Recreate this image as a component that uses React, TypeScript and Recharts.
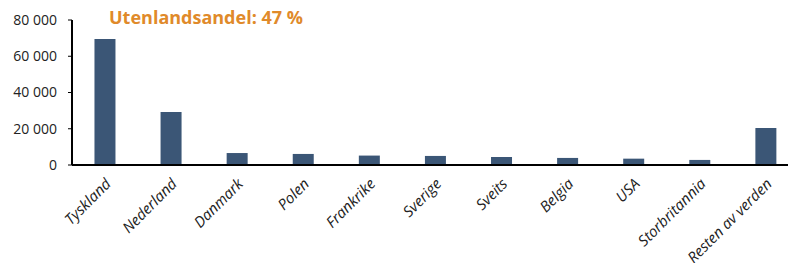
import React from 'react';
import { BarChart, Bar, XAxis, YAxis } from 'recharts';

const countries = [
  'Tyskland',
  'Nederland',
  'Danmark',
  'Polen',
  'Frankrike',
  'Sverige',
  'Sveits',
  'Belgia',
  'USA',
  'Storbritannia',
  'Resten av verden',
];

const visitors = [69500, 29200, 6600, 6100, 5200, 5000, 4400, 3900, 3500, 2800, 20400];

const yTicks = [0, 20000, 40000, 60000, 80000];

const title = 'Utenlandsandel: 47 %';

const data = countries.map((name, i) => ({ name, value: visitors[i] }));

// 20000 -> "20 000"
const formatThousands = (v: number) => (v === 0 ? '0' : `${v / 1000} 000`);

const AngledTick = ({ x, y, payload }: any) => (
  <g transform={`translate(${x + 4},${y + 9})`}>
    <text
      x={0}
      y={0}
      dy={4}
      textAnchor="end"
      transform="rotate(-45)"
      fontSize={15}
      fontStyle="italic"
      fill="#222"
    >
      {payload.value}
    </text>
  </g>
);

const App: React.FC = () => {
  return (
    <div
      style={{
        position: 'absolute',
        left: 0,
        top: 0,
        width: 788,
        height: 263,
        overflow: 'hidden',
        background: '#fff',
        fontFamily: '"Open Sans", "Liberation Sans", sans-serif',
      }}
    >
      <div
        style={{
          position: 'absolute',
          left: 109,
          top: 5,
          fontSize: 18,
          fontWeight: 700,
          color: '#E08A2A',
          whiteSpace: 'nowrap',
        }}
      >
        {title}
      </div>
      <BarChart
        width={800}
        height={263}
        data={data}
        margin={{ top: 20, right: 1, left: 0, bottom: 0 }}
        barCategoryGap="34%"
      >
        <XAxis
          dataKey="name"
          interval={0}
          height={98}
          tickLine={false}
          axisLine={{ stroke: '#000', strokeWidth: 2 }}
          tick={<AngledTick />}
        />
        <YAxis
          width={72}
          domain={[0, 80000]}
          ticks={yTicks}
          tickFormatter={formatThousands}
          tickSize={4}
          tickMargin={11}
          tickLine={{ stroke: '#000' }}
          axisLine={{ stroke: '#000', strokeWidth: 2 }}
          tick={{ fontSize: 14, fill: '#222' }}
        />
        <Bar dataKey="value" fill="#3B5676" isAnimationActive={false} />
      </BarChart>
    </div>
  );
};

export default App;
